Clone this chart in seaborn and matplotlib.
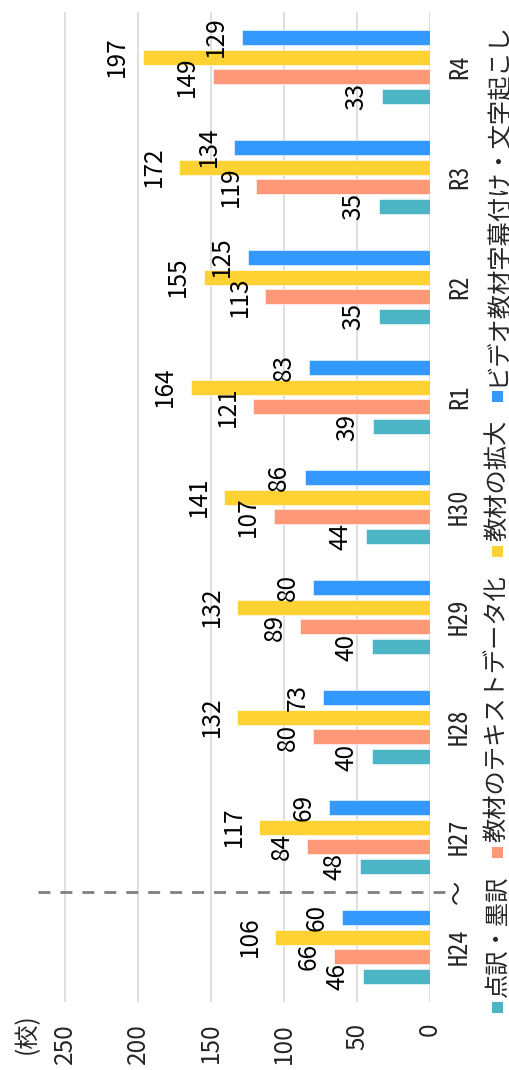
import matplotlib
matplotlib.use("Agg")
import matplotlib.pyplot as plt
from matplotlib.patches import Rectangle
import seaborn as sns
import pandas as pd

years = ["H24", "H27", "H28", "H29", "H30", "R1", "R2", "R3", "R4"]
series = ["点訳・墨訳", "教材のテキストデータ化", "教材の拡大", "ビデオ教材字幕付け・文字起こし"]
braille = [46, 48, 40, 40, 44, 39, 35, 35, 33]
textdata = [66, 84, 80, 89, 107, 121, 113, 119, 149]
enlarge = [106, 117, 132, 132, 141, 164, 155, 172, 197]
video = [60, 69, 73, 80, 86, 83, 125, 134, 129]
value_ticks = [0, 50, 100, 150, 200, 250]
unit_label = "(校)"
colors = ["#4BB4C5", "#FF9878", "#FFD234", "#3399FF"]

sns.set_style("white")
PROP = ["Noto Sans CJK JP", "DejaVu Sans"]
MONO = ["Noto Sans Mono CJK JP", "Noto Sans CJK JP", "DejaVu Sans"]
plt.rcParams["font.family"] = PROP
FS = 17.5

rows = []
for s, vals in zip(series, [braille, textdata, enlarge, video]):
    for y, v in zip(years, vals):
        rows.append({"year": y, "series": s, "value": v})
df = pd.DataFrame(rows)

W, H = 510, 1070
fig = plt.figure(figsize=(W / 100, H / 100), dpi=100)
ax_left, ax_right, ax_top, ax_bot = 36, 430, 12, 1002
ax = fig.add_axes([ax_left / W, 1 - ax_bot / H, (ax_right - ax_left) / W, (ax_bot - ax_top) / H])

sns.barplot(data=df, y="year", x="value", hue="series", order=years, hue_order=series,
            palette=colors, saturation=1, orient="h", width=0.727, gap=0.25, errorbar=None,
            legend=False, ax=ax, edgecolor="white", linewidth=0.4)

ax.set_ylim(-0.5, len(years) - 0.5)
ax.set_xlim(270, 0)
ax.set_xticks(value_ticks)
ax.set_xticklabels([str(t) for t in value_ticks], rotation=90, fontsize=FS)
ax.set_yticks(range(len(years)))
ax.set_yticklabels(years, rotation=90, va="center", fontsize=FS, family=MONO)
ax.yaxis.tick_right()
ax.tick_params(axis="x", length=0, pad=15)
ax.tick_params(axis="y", length=0, pad=13)
ax.set_xlabel("")
ax.set_ylabel("")
for sp in ax.spines.values():
    sp.set_visible(False)
ax.grid(axis="x", color="#D9D9D9", linewidth=1.2)
ax.set_axisbelow(True)

# value labels
for cont in ax.containers:
    for bar in cont:
        v = bar.get_width()
        yc = bar.get_y() + bar.get_height() / 2
        ax.annotate(f"{int(round(v))}", xy=(v, yc), xytext=(-9, 0), textcoords="offset points",
                    rotation=90, ha="right", va="center", fontsize=FS, color="black")

# break marker between H24 and H27
ax.plot([268.5, -11.6], [0.5, 0.5], color="#808080", linewidth=2, linestyle=(0, (4.3, 3.6)),
        clip_on=False, zorder=3)
ax.text(1.071, 0.5, "～", transform=ax.get_yaxis_transform(), rotation=90,
        ha="center", va="center", fontsize=FS)

# unit label
ax.text(-0.023, -0.011, unit_label, transform=ax.transAxes, rotation=90,
        ha="center", va="top", fontsize=FS)

# legend (rotated, bottom to top)
fig.canvas.draw()
renderer = fig.canvas.get_renderer()
ypos = H - 1013
xc = 497.5
sq = 11
for lab, col in zip(series, colors):
    fig.patches.append(Rectangle(((xc - sq / 2) / W, ypos / H), sq / W, sq / H,
                                 transform=fig.transFigure, facecolor=col, edgecolor="none"))
    ypos += sq + 5
    t = fig.text(xc / W, ypos / H, lab, rotation=90, rotation_mode="anchor",
                 ha="left", va="center", fontsize=FS)
    bb = t.get_window_extent(renderer)
    ypos += bb.height + 18

fig.savefig("out.png", dpi=100)
